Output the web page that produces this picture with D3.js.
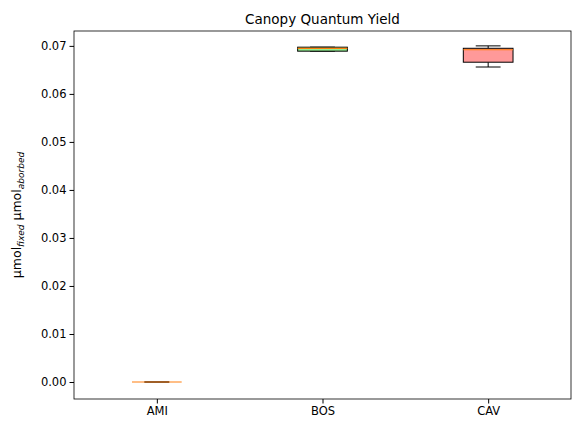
<!DOCTYPE html><html><head><meta charset="utf-8"><script src="https://cdn.jsdelivr.net/npm/d3@7"></script>
<style>body{margin:0;background:#fff}text{font-family:"DejaVu Sans",sans-serif}</style></head><body><svg width="580" height="433"></svg>
<script>
const categories=["AMI","BOS","CAV"];
const whiskLow=[0,0.0689,0.0656];
const q1=[0,0.0689,0.0666];
const median=[0,0.0695,0.0692];
const q3=[0,0.06973,0.0695];
const whiskHigh=[0,0.06973,0.0700];
const fills=["#add8e6","#90ee90","#ff9999"];
const yTicks=[0,0.01,0.02,0.03,0.04,0.05,0.06,0.07];
const svg=d3.select("svg");
const L=74,R=571,T=31,B=399;
const x=d3.scaleLinear().domain([0.5,3.5]).range([L,R]);
const y=d3.scaleLinear().domain([-0.00354,0.0731]).range([B,T]);
const bw=x(1.3)-x(1);
svg.append("g").attr("transform",`translate(0,${B})`).call(d3.axisBottom(x).tickValues([1,2,3]).tickFormat((d,i)=>categories[i]).tickSizeOuter(0).tickSize(4.5)).call(g=>g.select(".domain").remove());
svg.append("g").attr("transform",`translate(${L},0)`).call(d3.axisLeft(y).tickValues(yTicks).tickFormat(d3.format(".2f")).tickSizeOuter(0).tickSize(4.5)).call(g=>g.select(".domain").remove());
svg.selectAll(".tick text").attr("font-size",11.5).attr("fill","#000");
svg.selectAll(".tick line").attr("stroke","#000");
categories.forEach((c,i)=>{
 const cx=x(i+1),g=svg.append("g");
 g.append("line").attr("x1",cx).attr("x2",cx).attr("y1",y(whiskLow[i])).attr("y2",y(q1[i])).attr("stroke","#000");
 g.append("line").attr("x1",cx).attr("x2",cx).attr("y1",y(whiskHigh[i])).attr("y2",y(q3[i])).attr("stroke","#000");
 [whiskLow[i],whiskHigh[i]].forEach(v=>g.append("line").attr("x1",cx-bw/4).attr("x2",cx+bw/4).attr("y1",y(v)).attr("y2",y(v)).attr("stroke","#000"));
 g.append("rect").attr("x",cx-bw/2).attr("width",bw).attr("y",y(q3[i])).attr("height",Math.max(0,y(q1[i])-y(q3[i]))).attr("fill",fills[i]).attr("stroke","#000");
 g.append("line").attr("x1",cx-bw/2).attr("x2",cx+bw/2).attr("y1",y(median[i])).attr("y2",y(median[i])).attr("stroke","#ff7f0e").attr("stroke-width",1.2);
});
svg.append("rect").attr("x",L).attr("y",T).attr("width",R-L).attr("height",B-T).attr("fill","none").attr("stroke","#000").attr("stroke-width",0.8);
svg.append("text").attr("x",(L+R)/2).attr("y",T-7).attr("text-anchor","middle").attr("font-size",13.5).text("Canopy Quantum Yield");
const yl=svg.append("text").attr("transform",`translate(21,${(T+B)/2}) rotate(-90)`).attr("text-anchor","middle").attr("font-size",12.5);
yl.append("tspan").text("µmol");
yl.append("tspan").attr("font-size",9).attr("font-style","italic").attr("dy",3).text("fixed");
yl.append("tspan").attr("dy",-3).text(" µmol");
yl.append("tspan").attr("font-size",9).attr("font-style","italic").attr("dy",3).text("aborbed");
</script></body></html>
